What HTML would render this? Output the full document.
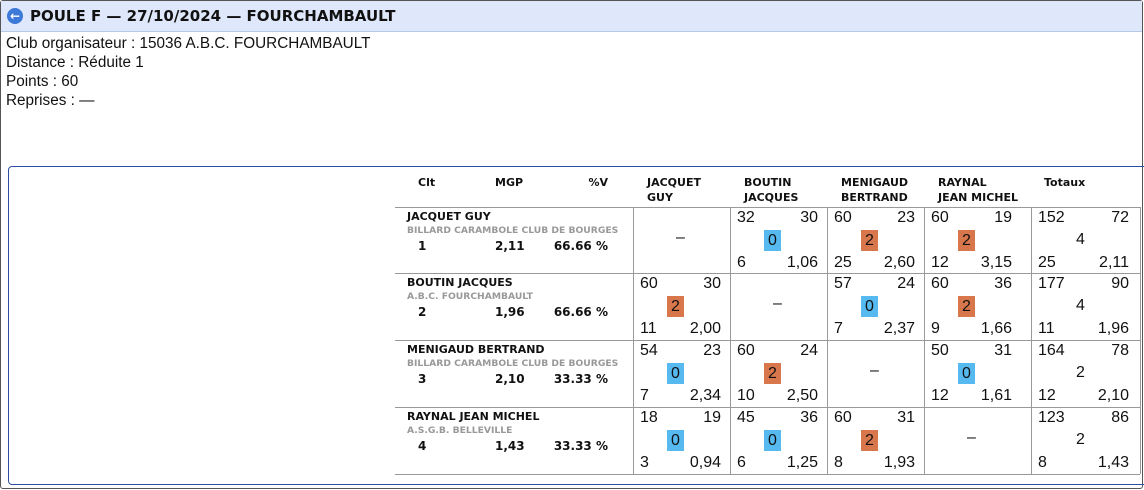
<!DOCTYPE html>
<html><head><meta charset="utf-8"><style>
body{margin:0;width:1144px;height:490px;overflow:hidden;background:#fff;font-family:"DejaVu Sans","Liberation Sans",sans-serif;position:relative}
.a{position:absolute;white-space:nowrap}
#frame{position:absolute;left:0;top:0;width:1141px;height:487px;border:1px solid #555;border-radius:3px}
#bar{position:absolute;left:1px;top:1px;width:1141px;height:30px;background:#dfe8fa;border-bottom:1px solid #b8c8e8}
#title{left:30px;top:7px;font-size:15px;font-weight:bold;color:#111}
#icon{left:7px;top:8px;width:16px;height:16px;border-radius:50%;background:#3c79d8;color:#fff;font-size:12px;line-height:16px;text-align:center;font-weight:bold}
.info{left:6px;font-size:15.3px;color:#111;font-family:"Liberation Sans",sans-serif}
#panel{position:absolute;left:8px;top:166px;width:1140px;height:317px;border:1px solid #2c4ea0;border-radius:4px}
.hd{font-size:11px;font-weight:bold;color:#111;line-height:15px}
.nm{font-size:11px;font-weight:bold;color:#111}
.cl{font-size:9.2px;font-weight:bold;color:#999}
.st{font-size:12px;font-weight:bold;color:#111}
.n{font-size:16px;color:#111;font-family:"Liberation Sans",sans-serif}
.bd{width:17px;height:21px;text-align:center;line-height:21px;font-size:16px;font-family:"Liberation Sans",sans-serif;color:#111}
.hl{position:absolute;height:1px;background:#999}
.vl{position:absolute;width:1px;background:#999}
</style></head><body>
<div id="frame"></div>
<div id="bar"></div>
<div class="a" id="icon">&#8592;</div>
<div class="a" id="title">POULE F — 27/10/2024 — FOURCHAMBAULT</div>
<div class="a info" style="top:35px">Club organisateur : 15036 A.B.C. FOURCHAMBAULT</div>
<div class="a info" style="top:54px">Distance : Réduite 1</div>
<div class="a info" style="top:73px">Points : 60</div>
<div class="a info" style="top:92px">Reprises : —</div>
<div id="panel"></div>
<div id="tbl"></div>
<script>
const names=["JACQUET GUY","BOUTIN JACQUES","MENIGAUD BERTRAND","RAYNAL JEAN MICHEL"];
const headNames=[["JACQUET","GUY"],["BOUTIN","JACQUES"],["MENIGAUD","BERTRAND"],["RAYNAL","JEAN MICHEL"]];
const clubs=["BILLARD CARAMBOLE CLUB DE BOURGES","A.B.C. FOURCHAMBAULT","BILLARD CARAMBOLE CLUB DE BOURGES","A.S.G.B. BELLEVILLE"];
const clt=["1","2","3","4"];
const mgp=["2,11","1,96","2,10","1,43"];
const pctV=["66.66 %","66.66 %","33.33 %","33.33 %"];
const matches=[
 [null,[32,30,0,6,"1,06"],[60,23,2,25,"2,60"],[60,19,2,12,"3,15"]],
 [[60,30,2,11,"2,00"],null,[57,24,0,7,"2,37"],[60,36,2,9,"1,66"]],
 [[54,23,0,7,"2,34"],[60,24,2,10,"2,50"],null,[50,31,0,12,"1,61"]],
 [[18,19,0,3,"0,94"],[45,36,0,6,"1,25"],[60,31,2,8,"1,93"],null]];
const totals=[[152,72,4,25,"2,11"],[177,90,4,11,"1,96"],[164,78,2,12,"2,10"],[123,86,2,8,"1,43"]];
const T=document.getElementById('tbl');
function add(cls,x,y,txt,style){const d=document.createElement('div');d.className='a '+cls;d.style.left=x+'px';d.style.top=y+'px';if(style)d.style.cssText+=style;d.textContent=txt;T.appendChild(d);return d;}
const colX=[633,730,827,924,1031,1140];
const rowY=[207,273,340,407,474];
let e;
e=add('hd',418,175,'Clt');


e=add('hd',495,175,'MGP');


e=add('hd',560,175,'%V','width:48px;text-align:right');


headNames.forEach((h,j)=>{
 e=add('hd',colX[j]+14,175,'');e.innerHTML=h[0]+'<br>'+h[1];
 
 
});
e=add('hd',colX[4]+13,175,'Totaux');


rowY.forEach(y=>{const l=document.createElement('div');l.className='hl';l.style.left='395px';l.style.top=y+'px';l.style.width='745px';


T.appendChild(l);});
colX.forEach(x=>{const l=document.createElement('div');l.className='vl';l.style.left=x+'px';l.style.top='207px';l.style.height='267px';


T.appendChild(l);});
function cell(x,y,c){
 e=add('n',x+7,y+2,c[0]);
 
 
 e=add('n',x+40,y+2,c[1],'width:48px;text-align:right');
 
 
 e=add('bd',x+34,y+23,c[2],'background:'+(c[2]>0?'#d9774c':'#56b9f0'));
 
 
 e=add('n',x+7,y+47,c[3]);
 
 
 e=add('n',x+40,y+47,c[4],'width:48px;text-align:right');
 
 
}
names.forEach((n,i)=>{
 const y=rowY[i];
 e=add('nm',407,y+3,n);
 
 
 e=add('cl',407,y+18,clubs[i]);
 
 
 e=add('st',418,y+32,clt[i]);
 
 
 e=add('st',495,y+32,mgp[i]);
 
 
 e=add('st',540,y+32,pctV[i],'width:68px;text-align:right');
 
 
 matches[i].forEach((c,j)=>{
  const x=colX[j];
  if(!c){e=add('n',x+43,y+22,'–');
   
   }
  else cell(x,y,c);
 });
 const tx=colX[4];
 const t=totals[i];
 e=add('n',tx+7,y+2,t[0]);
 
 
 e=add('n',tx+50,y+2,t[1],'width:48px;text-align:right');
 
 
 e=add('n',tx+45,y+24,t[2]);
 
 
 e=add('n',tx+7,y+47,t[3]);
 
 
 e=add('n',tx+50,y+47,t[4],'width:48px;text-align:right');
 
 
});
</script>
</body></html>
